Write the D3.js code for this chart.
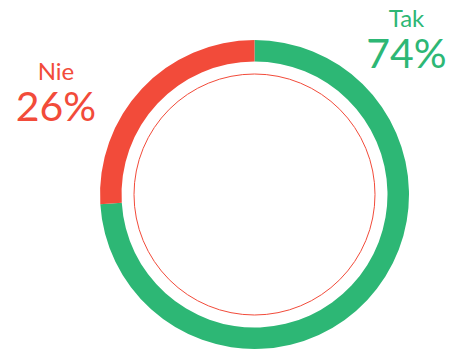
<!DOCTYPE html>
<html>
<head>
<meta charset="utf-8">
<script src="https://cdn.jsdelivr.net/npm/d3@7"></script>
<style>
    body { margin: 0; background: #fff; }
    text { font-family: Lato, sans-serif; }
</style>
</head>
<body>
<div id="chart"></div>
<script>
const labels = ['Tak', 'Nie']
const values = [74, 26]
const colors = ['#2db775', '#f24b3a']

const width = 452
const height = 350
const cx = 254.5
const cy = 194.5

const svg = d3.select('#chart')
    .append('svg')
    .attr('width', width)
    .attr('height', height)

const data = labels.map((label, i) => ({ label, value: values[i], color: colors[i] }))

const pie = d3.pie().sort(null).value(d => d.value)
const arc = d3.arc().innerRadius(133).outerRadius(154.5)

const g = svg.append('g').attr('transform', `translate(${cx},${cy})`)

g.selectAll('path')
    .data(pie(data))
    .enter()
    .append('path')
    .attr('d', arc)
    .attr('fill', d => d.data.color)

// thin inner ring
g.append('circle')
    .attr('r', 120.5)
    .attr('fill', 'none')
    .attr('stroke', colors[1])
    .attr('stroke-width', 1)

// labels
const labelPos = [
    { x: 406.5, y: 27 },
    { x: 56, y: 80 }
]

const lab = svg.selectAll('.lab')
    .data(data)
    .enter()
    .append('g')
    .attr('class', 'lab')
    .attr('transform', (d, i) => `translate(${labelPos[i].x},${labelPos[i].y})`)
    .attr('fill', d => d.color)
    .attr('text-anchor', 'middle')

lab.append('text')
    .attr('font-size', 24)
    .text(d => d.label)

lab.append('text')
    .attr('y', 40.5)
    .attr('font-size', 41)
    .text(d => d.value + '%')
</script>
</body>
</html>
